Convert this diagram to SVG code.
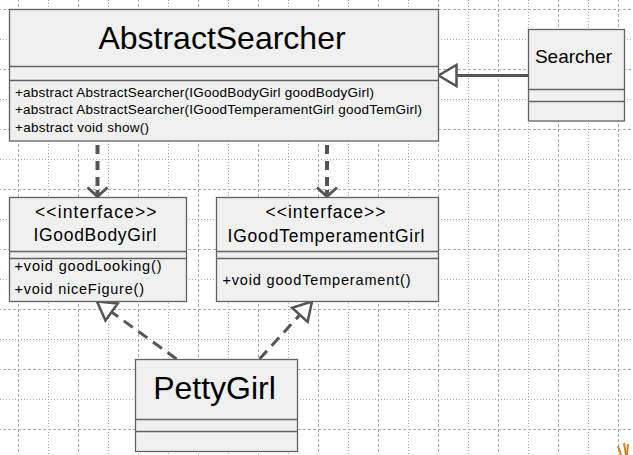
<svg xmlns="http://www.w3.org/2000/svg" width="633" height="455" viewBox="0 0 633 455">
<style>
.box{fill:#f0f0f0;stroke:#626262;stroke-width:1.3}
.div{stroke:#626262;stroke-width:1.3}
.t{font-family:"Liberation Sans",Arial,sans-serif;fill:#000}
.big{font-size:32px}
.mid{font-size:17.5px}
.sm{font-size:13.5px}
.ms{font-size:14.5px}
.dep{fill:none;stroke:#555;stroke-width:4;stroke-dasharray:9 7}
.real{fill:none;stroke:#555;stroke-width:3;stroke-dasharray:11 7}
.gen{fill:none;stroke:#555;stroke-width:3}
</style>
<defs>
<pattern id="grid" patternUnits="userSpaceOnUse" x="18" y="9" width="60" height="60">
<line x1="0.5" y1="0" x2="0.5" y2="60" stroke="#ababab" stroke-width="1" stroke-dasharray="3 2"/>
<line x1="30.5" y1="0" x2="30.5" y2="60" stroke="#ababab" stroke-width="1" stroke-dasharray="1 2"/>
<line x1="0" y1="0.5" x2="60" y2="0.5" stroke="#ababab" stroke-width="1" stroke-dasharray="3 2"/>
<line x1="0" y1="30.5" x2="60" y2="30.5" stroke="#ababab" stroke-width="1" stroke-dasharray="1 2"/>
</pattern>
<marker id="tri" markerUnits="userSpaceOnUse" viewBox="-20 -13 22 26" markerWidth="22" markerHeight="26" refX="0" refY="0" orient="auto" overflow="visible">
<path d="M0,0 L-18,-10.5 L-18,10.5 Z" fill="#fff" stroke="#555" stroke-width="2.5" stroke-linejoin="miter"/>
</marker>
<marker id="open" markerUnits="userSpaceOnUse" viewBox="-12 -12 14 24" markerWidth="14" markerHeight="24" refX="0" refY="0" orient="auto" overflow="visible">
<path d="M-9,-10 L0,0 L-9,10" fill="none" stroke="#555" stroke-width="3"/>
</marker>
</defs>
<rect x="0" y="0" width="633" height="455" fill="#fff"/>
<rect x="0" y="0" width="633" height="455" fill="url(#grid)"/>
<path d="M618,446 l3,9 M624,443 l2,12 M628,444 l-1,11" stroke="#d9822b" stroke-width="2" fill="none"/>

<g id="connectors">
<path class="dep" d="M97.5,145 L97.5,196"/>
<path d="M97.5,190 L97.5,196.5" stroke="#555" stroke-width="4" fill="none" marker-end="url(#open)"/>
<path class="dep" d="M327,145 L327,196"/>
<path d="M327,190 L327,196.5" stroke="#555" stroke-width="4" fill="none" marker-end="url(#open)"/>
<path class="gen" d="M528,75.5 L438.5,75.5" marker-end="url(#tri)"/>
<path class="real" d="M176.5,359 L97,301.5" marker-end="url(#tri)"/>
<path class="real" d="M259.5,359 L312,301.5" marker-end="url(#tri)"/>
</g>

<g id="AbstractSearcher">
<rect class="box" x="9.5" y="9.5" width="429" height="131.5"/>
<line class="div" x1="9.5" y1="66.5" x2="438.5" y2="66.5"/>
<line class="div" x1="9.5" y1="80.5" x2="438.5" y2="80.5"/>
<text class="t big" x="222" y="49" text-anchor="middle">AbstractSearcher</text>
<text class="t sm" x="15" y="96.5" textLength="359" lengthAdjust="spacing">+abstract AbstractSearcher(IGoodBodyGirl goodBodyGirl)</text>
<text class="t sm" x="15" y="114" textLength="407" lengthAdjust="spacing">+abstract AbstractSearcher(IGoodTemperamentGirl goodTemGirl)</text>
<text class="t sm" x="15" y="131.5" textLength="134" lengthAdjust="spacing">+abstract void show()</text>
</g>

<g id="Searcher">
<rect class="box" x="528.5" y="29.5" width="96" height="91.5"/>
<line class="div" x1="528.5" y1="89.5" x2="624.5" y2="89.5"/>
<line class="div" x1="528.5" y1="101.5" x2="624.5" y2="101.5"/>
<text class="t" x="573.5" y="63" text-anchor="middle" font-size="19">Searcher</text>
</g>

<g id="IGoodBodyGirl">
<rect class="box" x="9.5" y="197.5" width="177" height="104"/>
<line class="div" x1="9.5" y1="251.5" x2="186.5" y2="251.5"/>
<line class="div" x1="9.5" y1="258.5" x2="186.5" y2="258.5"/>
<text class="t mid" x="35" y="217.5" textLength="121.5" lengthAdjust="spacing">&lt;&lt;interface&gt;&gt;</text>
<text class="t mid" x="33.5" y="241" textLength="123" lengthAdjust="spacing">IGoodBodyGirl</text>
<text class="t ms" x="14.5" y="271" textLength="147" lengthAdjust="spacing">+void goodLooking()</text>
<text class="t ms" x="14.5" y="294" textLength="129.5" lengthAdjust="spacing">+void niceFigure()</text>
</g>

<g id="IGoodTemperamentGirl">
<rect class="box" x="216.5" y="197.5" width="222" height="104"/>
<line class="div" x1="216.5" y1="251.5" x2="438.5" y2="251.5"/>
<line class="div" x1="216.5" y1="258.5" x2="438.5" y2="258.5"/>
<text class="t mid" x="265.5" y="217.5" textLength="120" lengthAdjust="spacing">&lt;&lt;interface&gt;&gt;</text>
<text class="t mid" x="227.5" y="241.5" textLength="197" lengthAdjust="spacing">IGoodTemperamentGirl</text>
<text class="t ms" x="222.5" y="285" textLength="188" lengthAdjust="spacing">+void goodTemperament()</text>
</g>

<g id="PettyGirl">
<rect class="box" x="135.5" y="359.5" width="162" height="92"/>
<line class="div" x1="135.5" y1="419.5" x2="297.5" y2="419.5"/>
<line class="div" x1="135.5" y1="431.5" x2="297.5" y2="431.5"/>
<text class="t big" x="214.5" y="399" text-anchor="middle">PettyGirl</text>
</g>
</svg>
